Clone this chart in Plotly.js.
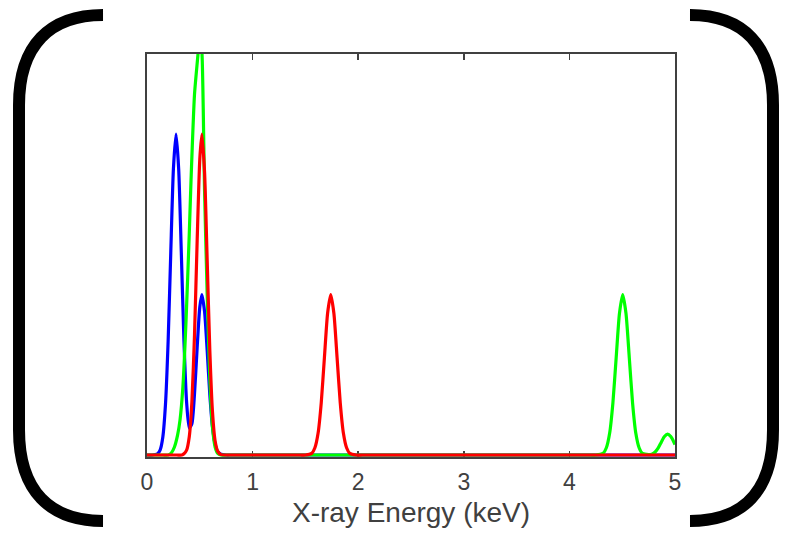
<!DOCTYPE html>
<html>
<head>
<meta charset="utf-8">
<script src="https://cdn.plot.ly/plotly-3.0.1.min.js"></script>
<style>html,body{margin:0;padding:0;background:#fff;}#chart{width:789px;height:541px;}</style>
</head>
<body>
<div id="chart"></div>
<script>
// Energy axis (keV) and counts (normalised)
const blueX = [0, 0.05, 0.10, 0.125, 0.15, 0.175, 0.20, 0.225, 0.25, 0.275, 0.30, 0.325, 0.35, 0.375, 0.40, 0.425, 0.45, 0.475, 0.50, 0.52, 0.545, 0.57, 0.595, 0.62, 0.645, 0.67, 0.70, 0.75, 0.80, 5.0];
const blueY = [0, 0, 0.003, 0.013, 0.045, 0.126, 0.283, 0.504, 0.713, 0.80, 0.713, 0.504, 0.284, 0.132, 0.067, 0.078, 0.153, 0.268, 0.369, 0.40, 0.358, 0.260, 0.150, 0.070, 0.027, 0.008, 0.002, 0, 0, 0];

const greenX = [0, 0.15, 0.20, 0.23, 0.26, 0.29, 0.3125, 0.34, 0.37, 0.40, 0.417, 0.45, 0.483, 0.50, 0.521, 0.545, 0.57, 0.595, 0.62, 0.645, 0.67, 0.70, 0.75,
                4.20, 4.25, 4.319, 4.35, 4.381, 4.412, 4.443, 4.474, 4.505, 4.536, 4.567, 4.598, 4.629, 4.66, 4.691, 4.75, 4.78, 4.81, 4.84, 4.87, 4.90, 4.93, 4.96, 4.99, 5.0];
const greenY = [0, 0, 0, 0.005, 0.02, 0.05, 0.087, 0.17, 0.337, 0.55, 0.686, 0.90, 1.0, 1.06, 1.0, 0.66, 0.40, 0.19, 0.07, 0.02, 0.004, 0, 0,
                0, 0, 0.004, 0.018, 0.054, 0.130, 0.243, 0.353, 0.40, 0.353, 0.243, 0.130, 0.054, 0.018, 0.004, 0.001, 0.002, 0.007, 0.017, 0.032, 0.046, 0.052, 0.046, 0.032, 0.026];

const redX = [0, 0.28, 0.33, 0.35, 0.375, 0.40, 0.425, 0.45, 0.475, 0.50, 0.52, 0.545, 0.57, 0.595, 0.62, 0.645, 0.67, 0.70, 0.75, 0.80,
              1.45, 1.50, 1.56, 1.59, 1.62, 1.65, 1.68, 1.71, 1.74, 1.77, 1.80, 1.83, 1.86, 1.89, 1.92, 1.98, 2.04, 5.0];
const redY = [0, 0, 0, 0.003, 0.012, 0.045, 0.132, 0.300, 0.534, 0.738, 0.80, 0.706, 0.485, 0.260, 0.108, 0.035, 0.009, 0.001, 0, 0,
              0, 0, 0.004, 0.018, 0.054, 0.130, 0.243, 0.353, 0.40, 0.353, 0.243, 0.130, 0.054, 0.018, 0.004, 0, 0, 0];

const xTicks = [0, 1, 2, 3, 4, 5];
const xTitle = 'X-ray Energy (keV)';

const W = 789, H = 541;
const M = {l: 147, r: 114, t: 54, b: 84};
const pw = W - M.l - M.r, ph = H - M.t - M.b;
function px(x) { return ((x - M.l) / pw).toFixed(4); }
function py(y) { return ((H - M.b - y) / ph).toFixed(4); }
function bracket(xEnd, xCtrl, xLine, yTop, yCurveTop, yCurveBot, yBot) {
  return 'M ' + px(xEnd) + ',' + py(yTop) +
    ' C ' + px(xCtrl) + ',' + py(yTop) + ' ' + px(xLine) + ',' + py(yTop + 30) + ' ' + px(xLine) + ',' + py(yCurveTop) +
    ' L ' + px(xLine) + ',' + py(yCurveBot) +
    ' C ' + px(xLine) + ',' + py(yBot - 30) + ' ' + px(xCtrl) + ',' + py(yBot) + ' ' + px(xEnd) + ',' + py(yBot);
}

const lineW = 3.2;
const traces = [
  {x: blueX, y: blueY, mode: 'lines', line: {color: '#0000ff', width: lineW, shape: 'spline', smoothing: 0.6}, hoverinfo: 'skip'},
  {x: greenX, y: greenY, mode: 'lines', line: {color: '#00ff00', width: lineW, shape: 'spline', smoothing: 0.6}, hoverinfo: 'skip'},
  {x: redX, y: redY, mode: 'lines', line: {color: '#ff0000', width: lineW, shape: 'spline', smoothing: 0.6}, hoverinfo: 'skip'}
];

const layout = {
  width: W, height: H,
  margin: M,
  paper_bgcolor: '#ffffff', plot_bgcolor: '#ffffff',
  showlegend: false,
  font: {family: 'Liberation Sans, Arial, sans-serif', color: '#404040'},
  xaxis: {
    range: [0, 5], tickvals: xTicks, ticktext: xTicks.map(String),
    ticks: 'inside', ticklen: 6, tickwidth: 1.5, tickcolor: '#404040',
    showline: true, linecolor: '#404040', linewidth: 2, mirror: 'ticks',
    showgrid: false, zeroline: false, layer: 'below traces',
    tickfont: {size: 23, color: '#404040'}, ticklabelstandoff: 3,
    title: {text: xTitle, font: {size: 28, color: '#404040'}, standoff: 9}
  },
  yaxis: {
    range: [-0.005, 1], showticklabels: false, ticks: '',
    showline: true, linecolor: '#404040', linewidth: 2, mirror: true,
    showgrid: false, zeroline: false, layer: 'below traces'
  },
  shapes: [
    {type: 'path', xref: 'paper', yref: 'paper', path: bracket(103, 50, 19, 15, 105, 430, 521), line: {color: '#000000', width: 12}},
    {type: 'path', xref: 'paper', yref: 'paper', path: bracket(690, 743, 773, 15, 105, 430, 521), line: {color: '#000000', width: 12}}
  ]
};

Plotly.newPlot('chart', traces, layout, {staticPlot: true, displayModeBar: false});
</script>
</body>
</html>
